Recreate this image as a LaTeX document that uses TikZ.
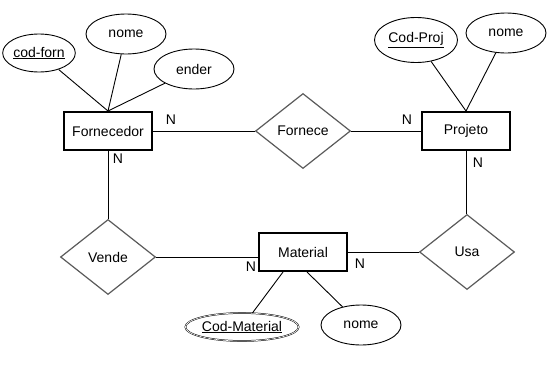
\documentclass[tikz,border=0pt]{standalone}
\usepackage{fontspec}
\setmainfont{Liberation Sans}
\usepackage{tikz}
\usetikzlibrary{shapes.geometric, positioning}
\definecolor{relcol}{HTML}{5A5A5A}

\begin{document}
\begin{tikzpicture}[
  x=1pt, y=-1pt,
  every node/.style={font=\fontsize{14}{16}\selectfont},
  entity/.style={rectangle, draw=black, line width=2pt,
                 minimum width=88pt, minimum height=38pt, inner sep=2pt},
  rel/.style={diamond, draw=relcol, line width=1.2pt,
              minimum width=95pt, minimum height=75pt, inner sep=0pt},
  attr/.style={ellipse, draw=black, line width=0.9pt,
               minimum width=80pt, minimum height=40pt, inner sep=0pt},
  lnk/.style={draw=black, line width=0.9pt},
  card/.style={inner sep=0pt},
]
\useasboundingbox (0,0) rectangle (551,391);

%% Entities
\node[entity] (forn) at (108,131) {Fornecedor};
\node[entity] (proj) at (466,131) {Projeto};
\node[entity] (mat)  at (303,252) {Material};

%% Relationships
\node[rel] (fornece) at (303,131) {Fornece};
\node[rel] (vende)   at (108,257) {Vende};
\node[rel] (usa)     at (467,252) {Usa};

%% Attributes of Fornecedor
\node[attr, minimum width=72pt, minimum height=38pt] (codforn) at (39,53) {\underline{cod-forn}};
\node[attr] (fnome)  at (126,34) {nome};
\node[attr] (fender) at (194,69) {ender};

%% Attributes of Projeto
\node[attr, minimum width=83pt, minimum height=45pt] (codproj) at (416,40) {\underline{Cod-Proj}};
\node[attr] (pnome) at (506,33) {nome};

%% Attributes of Material
\node[attr, minimum width=112pt, minimum height=28pt, double, double distance=0.6pt,
      line width=0.5pt] (codmat) at (242,327) {\underline{Cod-Material}};
\node[attr] (mnome) at (361,325) {nome};

%% Attribute links
\draw[lnk] (codforn) -- (forn.north);
\draw[lnk] (fnome)   -- (forn.north);
\draw[lnk] (fender)  -- (forn.north);
\draw[lnk] (codproj) -- (proj.north);
\draw[lnk] (pnome)   -- (proj.north);
\draw[lnk] ([xshift=-20pt]mat.south) -- (codmat);
\draw[lnk] ([xshift=4pt]mat.south)   -- (mnome);

%% Relationship links
\draw[lnk] (forn) -- (fornece);
\draw[lnk] (fornece) -- (proj);
\draw[lnk] (forn) -- (vende);
\draw[lnk] (proj.south) -- (proj.south |- usa.north);
\draw[lnk] (vende.east) -- (vende.east -| mat.west);
\draw[lnk] (usa) -- (mat);

%% Cardinalities
\node[card] (n1) at (171,120) {N};
\node[card] (n2) at (407,120) {N};
\node[card] (n3) at (118,159) {N};
\node[card] (n4) at (478,163) {N};
\node[card] (n5) at (251,267) {N};
\node[card] (n6) at (360,264) {N};

\end{tikzpicture}
\end{document}
